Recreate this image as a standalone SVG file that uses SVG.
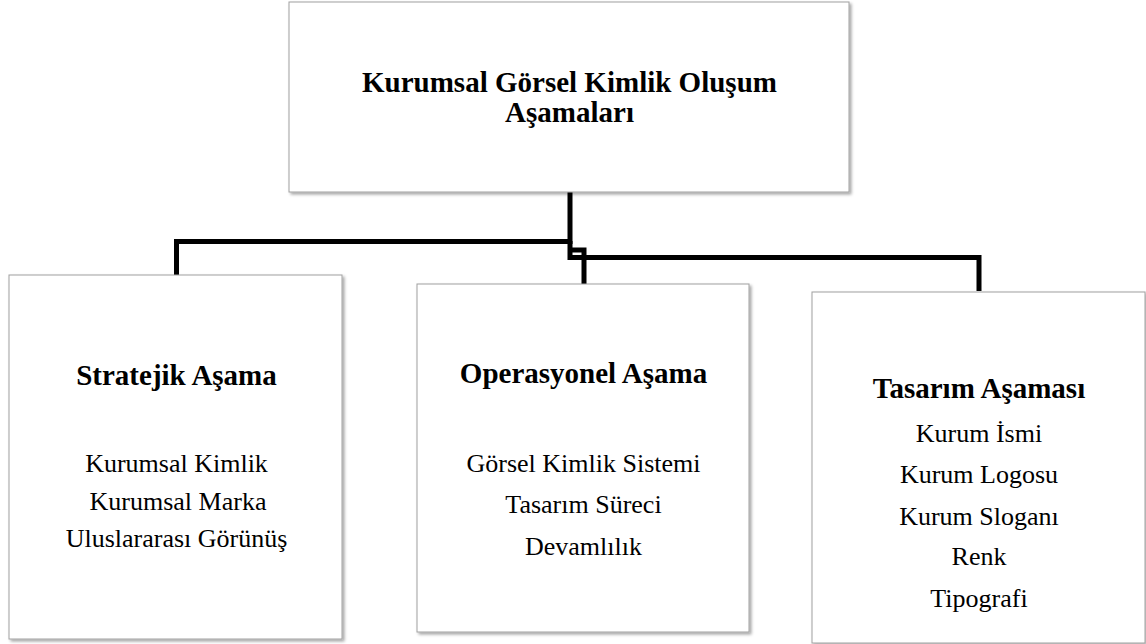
<svg xmlns="http://www.w3.org/2000/svg" width="1146" height="644" viewBox="0 0 1146 644">
  <style>
    .box { fill: #ffffff; stroke: #a0a0a0; stroke-width: 1; filter: url(#shadow); }
    .conn { fill: none; stroke: #000000; stroke-width: 5; stroke-linejoin: miter; }
    .head { font-family: 'Liberation Serif', 'Times New Roman', serif; font-weight: bold; font-size: 29px; text-anchor: middle; fill: #000; }
    .item { font-family: 'Liberation Serif', 'Times New Roman', serif; font-size: 26px; text-anchor: middle; fill: #000; }
  </style>
  <defs>
    <filter id="shadow" x="-5%" y="-5%" width="110%" height="110%">
      <feDropShadow dx="2" dy="2" stdDeviation="1.5" flood-color="#000" flood-opacity="0.35"/>
    </filter>
  </defs>
  <rect width="1146" height="644" fill="#ffffff"/>

  <g id="connectors">
    <path class="conn" d="M570,192 V241.5 H176.5 V275"/>
    <path class="conn" d="M570,241 V257.5 H979 V291"/>
    <path class="conn" d="M570,250 H584 V284"/>
  </g>

  <g id="node-root">
    <rect class="box" x="289" y="2" width="560" height="190"/>
    <text class="head" x="569.5" y="92">Kurumsal Görsel Kimlik Oluşum</text>
    <text class="head" x="569.5" y="122">Aşamaları</text>
  </g>

  <g id="node-stratejik">
    <rect class="box" x="9" y="275" width="333" height="364"/>
    <text class="head" x="176.5" y="385">Stratejik Aşama</text>
    <text class="item" x="176.5" y="472">Kurumsal Kimlik</text>
    <text class="item" x="178" y="510">Kurumsal Marka</text>
    <text class="item" x="176.5" y="547">Uluslararası Görünüş</text>
  </g>

  <g id="node-operasyonel">
    <rect class="box" x="417" y="284" width="332" height="348"/>
    <text class="head" x="583.5" y="383">Operasyonel Aşama</text>
    <text class="item" x="583.5" y="472">Görsel Kimlik Sistemi</text>
    <text class="item" x="583.5" y="513">Tasarım Süreci</text>
    <text class="item" x="583.5" y="555">Devamlılık</text>
  </g>

  <g id="node-tasarim">
    <rect class="box" x="812" y="292" width="333" height="351"/>
    <text class="head" x="979" y="398">Tasarım Aşaması</text>
    <text class="item" x="979" y="442">Kurum İsmi</text>
    <text class="item" x="979" y="483">Kurum Logosu</text>
    <text class="item" x="979" y="525">Kurum Sloganı</text>
    <text class="item" x="979" y="565">Renk</text>
    <text class="item" x="979" y="607">Tipografi</text>
  </g>
</svg>
